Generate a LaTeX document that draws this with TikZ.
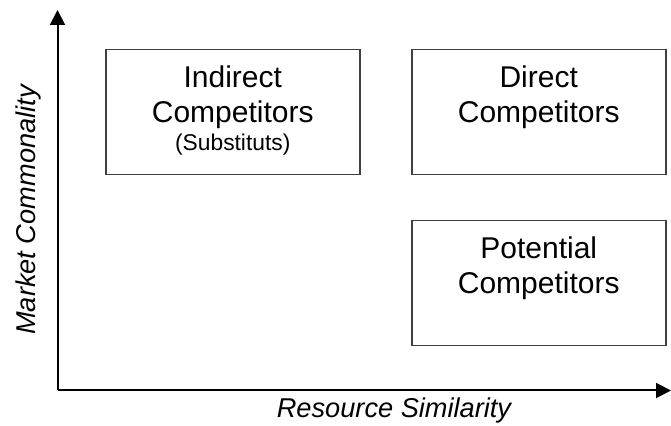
\documentclass[tikz,border=0pt]{standalone}
\usepackage{fontspec}
\setmainfont{Liberation Sans}
\usetikzlibrary{arrows.meta,positioning}
\tikzset{
  quad/.style={draw=black!75, line width=0.75pt, minimum width=127pt, minimum height=62.5pt, inner sep=0pt, anchor=north west},
  quadtext/.style={align=center, font=\fontsize{15}{17.8}\selectfont, inner sep=0pt},
  axis/.style={line width=1pt, -{Triangle[length=7.5pt,width=7.5pt]}},
  axislabel/.style={font=\itshape\fontsize{13.6}{16}\selectfont, inner sep=0pt}
}
\begin{document}
\begin{tikzpicture}[x=0.5pt,y=-0.5pt]
\useasboundingbox (0,0) rectangle (671,426);
% axes
\coordinate (origin) at (57.5,390.5);
\coordinate (ytip) at (57.5,10);
\coordinate (xtip) at (671,390.5);
\draw[axis] (origin) -- (ytip);
\draw[axis] (origin) -- (xtip);
\node[axislabel] (xlabel) at (394,410) {Resource Similarity};
\node[axislabel, rotate=90] (ylabel) at (28,210) {Market Commonality};
% quadrants
\node[quad] (indirect) at (105,49) {};
\node[quad] (direct) at (411,49) {};
\node[quad] (potential) at (411,220) {};
\node[quadtext, below=8pt of indirect.north] (indirecttext) {Indirect\\Competitors\\[-4pt]{\fontsize{11.4}{13.5}\selectfont (Substituts)}};
\node[quadtext, below=8pt of direct.north] (directtext) {Direct\\Competitors};
\node[quadtext, below=8pt of potential.north] (potentialtext) {Potential\\Competitors};
\end{tikzpicture}
\end{document}
